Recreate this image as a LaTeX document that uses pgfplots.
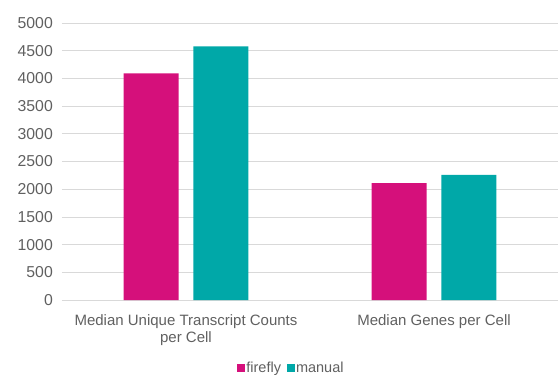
\documentclass[border=0pt]{standalone}
\usepackage{pgfplots}
\pgfplotsset{compat=1.18}
\usepackage{fontspec}
\setmainfont{Liberation Sans}

\definecolor{fireflyc}{RGB}{213,16,123}
\definecolor{manualc}{RGB}{0,168,168}
\definecolor{txt}{RGB}{96,96,96}
\definecolor{gridc}{RGB}{217,217,217}

\begin{document}
\begin{tikzpicture}
\useasboundingbox (0,0) rectangle (560pt,376pt);
\begin{axis}[
  at={(62pt,76pt)}, anchor=south west,
  scale only axis, width=496pt, height=277pt,
  ybar, ymin=0, ymax=5000, ytick distance=500,
  xmin=-0.5, xmax=1.5, xtick={0,1},
  xticklabels={{Median Unique Transcript Counts\\per Cell},{Median Genes per Cell}},
  /pgf/number format/assume math mode=true,
  scaled y ticks=false,
  yticklabel style={/pgf/number format/fixed, /pgf/number format/1000 sep={}},
  axis line style={draw=none},
  major tick length=0pt,
  ymajorgrids, grid style={draw=gridc, line width=0.8pt},
  tick label style={font=\fontsize{15}{17}\selectfont, text=txt, inner sep=0pt},
  yticklabel style={anchor=east, xshift=-9pt, font=\fontsize{15.8}{17}\selectfont},
  xticklabel style={anchor=north, align=center, yshift=-14pt},
  bar width=0.222,
  legend columns=-1,
  legend style={at={(0.4617,-0.2455)}, anchor=center, draw=none, fill=none,
    font=\fontsize{14.5}{16}\selectfont, text=txt,
    nodes={inner sep=1.5pt},
    /tikz/every even column/.append style={column sep=4pt}},
  legend image code/.code={\fill[#1] (0pt,-4pt) rectangle (8pt,4pt);},
]
\addplot[fill=fireflyc, draw=none, bar shift=-0.141] coordinates {(0,4090) (1,2110)};
\addplot[fill=manualc, draw=none, bar shift=0.141] coordinates {(0,4580) (1,2260)};
\legend{firefly, manual}
\end{axis}
\end{tikzpicture}
\end{document}
